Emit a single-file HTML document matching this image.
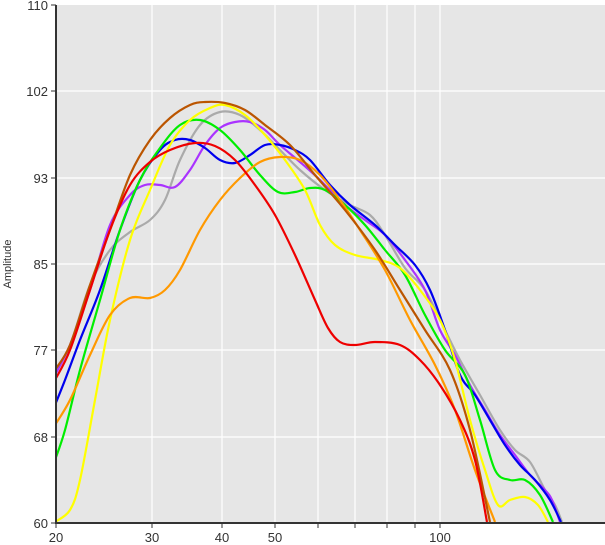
<!DOCTYPE html>
<html><head><meta charset="utf-8"><style>body{margin:0;background:#fff}svg{display:block;font-family:"Liberation Sans",sans-serif}</style></head><body>
<svg width="605" height="545" viewBox="0 0 605 545">
<defs><clipPath id="c"><rect x="56" y="5" width="549" height="518"/></clipPath></defs>
<rect x="56" y="5" width="549" height="518" fill="#e6e6e6"/>
<g stroke="#fff" stroke-width="1.2">
<line x1="56" y1="91" x2="605" y2="91"/><line x1="56" y1="178" x2="605" y2="178"/><line x1="56" y1="264" x2="605" y2="264"/><line x1="56" y1="350" x2="605" y2="350"/><line x1="56" y1="437" x2="605" y2="437"/>
<line x1="152" y1="5" x2="152" y2="523"/><line x1="222" y1="5" x2="222" y2="523"/><line x1="275" y1="5" x2="275" y2="523"/><line x1="318" y1="5" x2="318" y2="523"/><line x1="355" y1="5" x2="355" y2="523"/><line x1="387" y1="5" x2="387" y2="523"/><line x1="415" y1="5" x2="415" y2="523"/><line x1="440" y1="5" x2="440" y2="523"/>
</g>
<g id="curves" clip-path="url(#c)" fill="none" stroke-width="2.2" stroke-linejoin="round">
<polyline stroke="#aaaaaa" points="55,370 70,345 90,285 110,250 130,232 150,220 165,200 180,160 200,125 220,112 240,115 260,130 280,150 300,170 325,190 350,205 370,215 385,235 405,268 425,290 445,330 460,360 480,395 500,430 515,450 530,462 545,490 555,505 562,522"/>
<polyline stroke="#aa33ff" points="55,375 70,345 90,290 110,225 130,195 145,185 160,185 175,187 190,170 205,145 220,128 235,122 250,122 265,130 280,145 300,162 320,180 345,205 365,220 385,235 405,260 425,290 440,330 455,355 470,385 485,410 500,435 515,455 530,475 545,490 552,500 560,522"/>
<polyline stroke="#0000ee" points="55,405 65,380 80,340 100,290 120,230 140,180 160,150 175,140 190,140 205,148 220,160 235,163 250,155 265,145 280,145 295,150 310,160 330,185 350,205 375,225 395,245 415,265 430,290 445,330 460,375 475,395 490,420 505,445 520,465 535,480 550,500 561,522"/>
<polyline stroke="#00ee00" points="55,460 65,430 80,370 100,300 120,230 140,180 160,148 180,125 200,120 220,130 240,150 260,175 278,192 295,192 310,188 325,190 345,205 365,225 385,250 405,275 425,315 445,350 465,375 480,420 495,470 510,480 525,480 540,495 553,522"/>
<polyline stroke="#ffff00" points="55,522 70,510 80,480 95,400 110,320 130,240 150,190 170,145 190,120 210,108 225,105 245,115 265,135 285,160 305,190 320,225 335,245 355,255 380,260 400,268 420,290 440,320 455,360 470,420 485,470 498,505 510,500 525,497 538,505 548,522"/>
<polyline stroke="#ff9900" points="55,425 70,400 90,355 110,315 130,298 150,298 165,290 180,270 200,230 220,200 240,178 260,162 280,157 300,160 320,175 340,200 360,230 385,270 410,320 435,365 455,410 475,470 495,522"/>
<polyline stroke="#bb5500" points="55,370 70,345 90,285 110,230 130,175 150,140 170,118 190,105 205,102 225,103 245,110 265,125 290,145 315,175 345,210 375,250 400,290 425,330 450,370 470,430 490,522"/>
<polyline stroke="#ee0000" points="55,380 70,350 90,290 110,230 130,185 150,162 170,150 195,143 215,146 235,160 255,185 275,215 295,255 315,300 328,328 340,342 355,345 375,342 400,345 420,360 440,385 460,420 475,460 487,522"/>
</g>
<g stroke="#333" stroke-width="2"><line x1="56" y1="5" x2="56" y2="524"/><line x1="55" y1="523" x2="605" y2="523"/></g>
<g stroke="#333" stroke-width="1">
<line x1="51" y1="5" x2="56" y2="5"/><line x1="51" y1="91" x2="56" y2="91"/><line x1="51" y1="178" x2="56" y2="178"/><line x1="51" y1="264" x2="56" y2="264"/><line x1="51" y1="350" x2="56" y2="350"/><line x1="51" y1="437" x2="56" y2="437"/><line x1="51" y1="523" x2="56" y2="523"/>
<line x1="56" y1="523" x2="56" y2="528"/><line x1="152" y1="523" x2="152" y2="528"/><line x1="222" y1="523" x2="222" y2="528"/><line x1="275" y1="523" x2="275" y2="528"/><line x1="318" y1="523" x2="318" y2="528"/><line x1="355" y1="523" x2="355" y2="528"/><line x1="387" y1="523" x2="387" y2="528"/><line x1="415" y1="523" x2="415" y2="528"/><line x1="440" y1="523" x2="440" y2="528"/>
</g>
<g font-size="13" fill="#333" text-anchor="end">
<text x="48" y="10">110</text><text x="48" y="96">102</text><text x="48" y="183">93</text><text x="48" y="269">85</text><text x="48" y="355">77</text><text x="48" y="442">68</text><text x="48" y="528">60</text>
</g>
<g font-size="13" fill="#333" text-anchor="middle">
<text x="56" y="542">20</text><text x="152" y="542">30</text><text x="222" y="542">40</text><text x="275" y="542">50</text><text x="440" y="542">100</text>
</g>
<text transform="translate(11,264) rotate(-90)" font-size="11" fill="#333" text-anchor="middle">Amplitude</text>
</svg>
<script>
document.querySelectorAll('#curves polyline').forEach(function(pl){
  var p=pl.getAttribute('points').trim().split(/\s+/).map(function(s){return s.split(',').map(Number);});
  var d='M'+p[0][0]+','+p[0][1];
  for(var i=0;i<p.length-1;i++){
    var p0=p[i-1]||p[i],p1=p[i],p2=p[i+1],p3=p[i+2]||p2;
    var c1x=p1[0]+(p2[0]-p0[0])/6,c1y=p1[1]+(p2[1]-p0[1])/6;
    var c2x=p2[0]-(p3[0]-p1[0])/6,c2y=p2[1]-(p3[1]-p1[1])/6;
    d+=' C'+c1x+','+c1y+' '+c2x+','+c2y+' '+p2[0]+','+p2[1];
  }
  var path=document.createElementNS('http://www.w3.org/2000/svg','path');
  path.setAttribute('d',d);path.setAttribute('stroke',pl.getAttribute('stroke'));
  pl.parentNode.replaceChild(path,pl);
});
</script>
</body></html>
